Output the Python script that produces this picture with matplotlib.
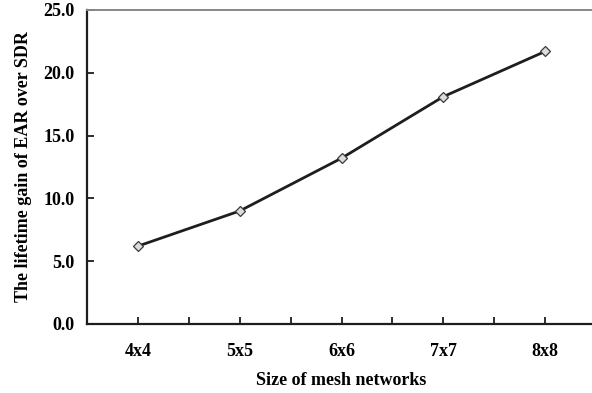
import matplotlib
matplotlib.use("Agg")
import matplotlib.pyplot as plt
import numpy as np

# data
sizes = ["4x4", "5x5", "6x6", "7x7", "8x8"]
gain = [6.2, 9.0, 13.2, 18.1, 21.7]
yticks = [0, 5, 10, 15, 20, 25]

plt.rcParams['font.family'] = ['Liberation Serif', 'DejaVu Serif']
plt.rcParams['font.weight'] = 'bold'

fig = plt.figure(figsize=(5.92, 3.93), dpi=100)
# axes run slightly past the right edge, like the cropped original
ax = fig.add_axes([87 / 592, 1 - 324 / 393, 509 / 592, 314 / 393])

x = np.arange(len(sizes))
ax.plot(x, gain, color='#1e1e1e', linewidth=2.0, marker='D', markersize=5.5,
        markerfacecolor='#dcdcdc', markeredgecolor='#3a3a3a', markeredgewidth=0.9,
        clip_on=False, zorder=3)

ax.set_xlim(-0.5, len(sizes) - 0.5)
ax.set_ylim(0, 25)
ax.set_yticks(yticks)
ax.set_yticklabels([f"{v:.1f}" for v in yticks])
ax.set_xticks(x)
ax.set_xticklabels(sizes)
ax.set_xticks(np.arange(-0.5, len(sizes), 1.0), minor=True)

ax.tick_params(axis='both', which='both', direction='in', length=5, width=1.3,
               labelsize=13, color='#1e1e1e')
ax.tick_params(axis='x', which='major', pad=14)
ax.tick_params(axis='y', which='major', pad=9)

# spines: dark left/bottom, gray top, none on the right
for side in ['left', 'bottom']:
    ax.spines[side].set_linewidth(1.6)
    ax.spines[side].set_color('#1e1e1e')
ax.spines['top'].set_color('#888888')
ax.spines['top'].set_linewidth(1.4)
ax.spines['right'].set_visible(False)

ax.set_xlabel("Size of mesh networks", fontsize=13, fontweight='bold', labelpad=8)
ax.set_ylabel("The lifetime gain of EAR over SDR", fontsize=13, fontweight='bold', labelpad=8)

fig.savefig("out.png", dpi=100)
